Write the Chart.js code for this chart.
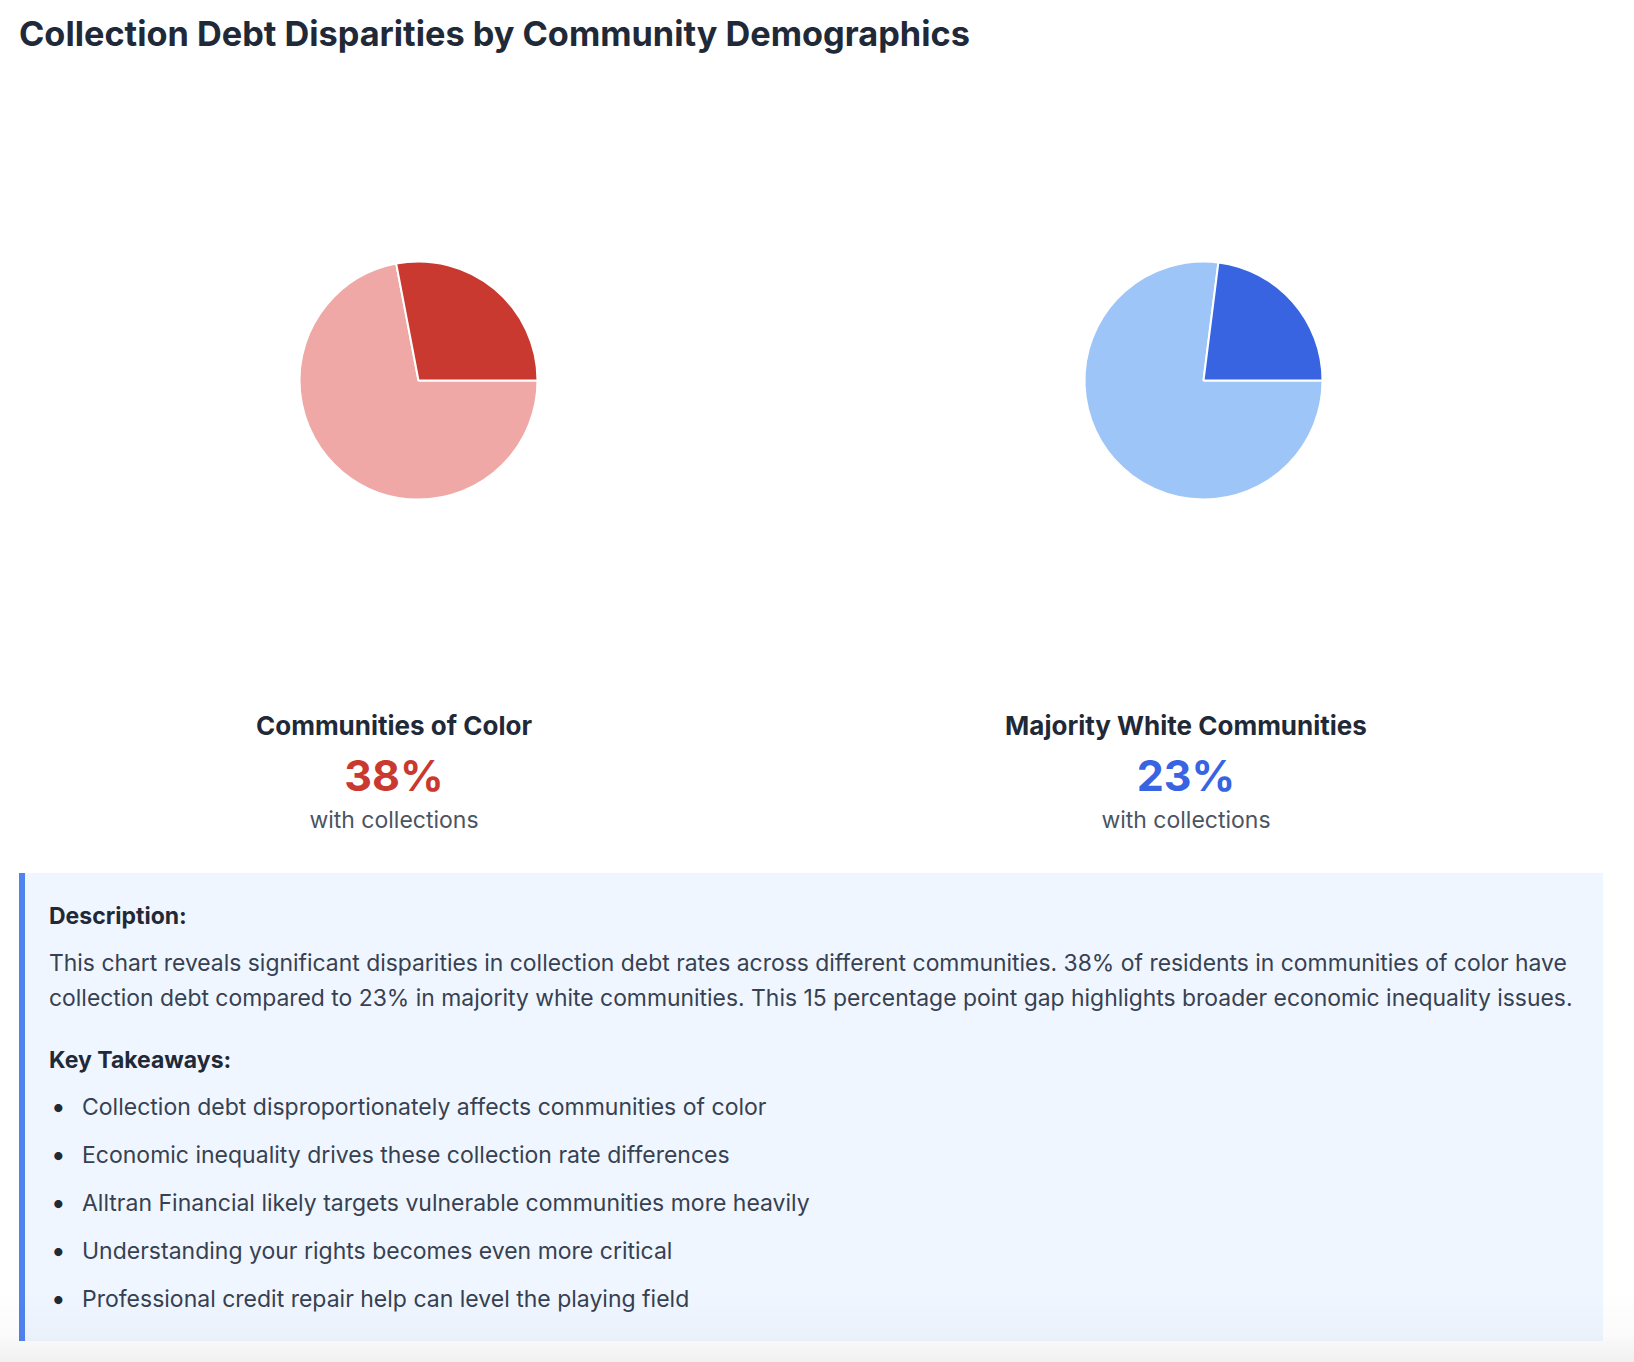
<!DOCTYPE html>
<html>
<head>
<meta charset="utf-8">
<script src="https://cdn.jsdelivr.net/npm/chart.js@4.4.0/dist/chart.umd.min.js"></script>
<style>
    body { margin: 0; background: #fff; font-family: Inter, "Noto Sans", sans-serif; color: #1f2937; }
    .wrap { width: 1584px; padding-left: 19px; position: relative; }
    h2 { margin: 0; padding-top: 15px; font-size: 34.3px; line-height: 38px; font-weight: 700; color: #1f2937; }
    .charts { display: flex; justify-content: center; gap: 8px; margin-top: 27px; }
    .chartBox { width: 777px; height: 601px; position: relative; }
    .stats { display: flex; width: 1584px; margin-left: -21px; margin-top: 29px; }
    .stat { width: 792px; text-align: center; }
    .stat .name { font-size: 26px; line-height: 32px; font-weight: 700; color: #1f2937; }
    .stat .pct { font-size: 43px; line-height: 50px; font-weight: 700; margin-top: 8px; }
    .stat .sub { font-size: 23px; line-height: 28px; color: #4b5563; margin-top: 6px; }
    .desc { margin-top: 39px; background: #eff6ff; border-left: 6px solid #4f83ee; padding: 29px 10px 26px 24px; }
    .desc h4 { margin: 0; font-size: 23px; line-height: 28px; font-weight: 700; color: #1f2937; }
    .desc p { margin: 16px 0 0 0; font-size: 22.9px; line-height: 35px; color: #374151; }
    .desc h4.kt { margin-top: 30px; }
    .desc ul { margin: 17px 0 0 0; padding-left: 33px; list-style: none; }
    .desc li { font-size: 23px; line-height: 32px; color: #374151; margin-bottom: 16px; position: relative; }
    .desc li::before { content: '\2022'; position: absolute; left: -31px; top: 0; font-size: 26px; color: #1f2937; }
    .desc li:last-child { margin-bottom: 0; }
    .shade { position: fixed; left: 0; right: 0; bottom: 0; height: 72px; pointer-events: none;
        background: linear-gradient(to bottom, rgba(0,0,0,0) 0%, rgba(0,0,0,0.015) 60%, rgba(0,0,0,0.06) 100%); }
</style>
</head>
<body>
<div class="wrap">
    <h2>Collection Debt Disparities by Community Demographics</h2>
    <div class="charts">
        <div class="chartBox"><canvas id="colorChart"></canvas></div>
        <div class="chartBox"><canvas id="whiteChart"></canvas></div>
    </div>
    <div class="stats">
        <div class="stat">
            <div class="name" id="name0"></div>
            <div class="pct" id="pct0" style="color:#c9392f"></div>
            <div class="sub">with collections</div>
        </div>
        <div class="stat">
            <div class="name" id="name1"></div>
            <div class="pct" id="pct1" style="color:#3864e2"></div>
            <div class="sub">with collections</div>
        </div>
    </div>
    <div class="desc">
        <h4>Description:</h4>
        <p>This chart reveals significant disparities in collection debt rates across different communities. 38% of residents in communities of color have collection debt compared to 23% in majority white communities. This 15 percentage point gap highlights broader economic inequality issues.</p>
        <h4 class="kt">Key Takeaways:</h4>
        <ul>
            <li>Collection debt disproportionately affects communities of color</li>
            <li>Economic inequality drives these collection rate differences</li>
            <li>Alltran Financial likely targets vulnerable communities more heavily</li>
            <li>Understanding your rights becomes even more critical</li>
            <li>Professional credit repair help can level the playing field</li>
        </ul>
    </div>
</div>
<div class="shade"></div>
<script>
const groups = ['Communities of Color', 'Majority White Communities'];
const statText = ['38%', '23%'];
const sliceLabels = ['Without collections', 'With collections'];
// slice sizes as drawn in the pies
const colorValues = [72, 28];
const whiteValues = [77, 23];

groups.forEach((g, i) => {
    document.getElementById('name' + i).textContent = g;
    document.getElementById('pct' + i).textContent = statText[i];
});

const makePie = (id, values, colors) => {
    const ctx = document.querySelector(id).getContext('2d');
    new Chart(ctx, {
        type: 'pie',
        data: {
            labels: sliceLabels,
            datasets: [{
                data: values,
                backgroundColor: colors,
                borderColor: '#ffffff',
                borderWidth: 2,
                radius: 119
            }]
        },
        options: {
            responsive: true,
            maintainAspectRatio: false,
            animation: false,
            rotation: 90,
            plugins: {
                legend: { display: false },
                tooltip: { enabled: true }
            }
        }
    });
};

makePie('#colorChart', colorValues, ['#f0a8a7', '#c9392f']);
makePie('#whiteChart', whiteValues, ['#9ec5f8', '#3864e2']);
</script>
</body>
</html>
